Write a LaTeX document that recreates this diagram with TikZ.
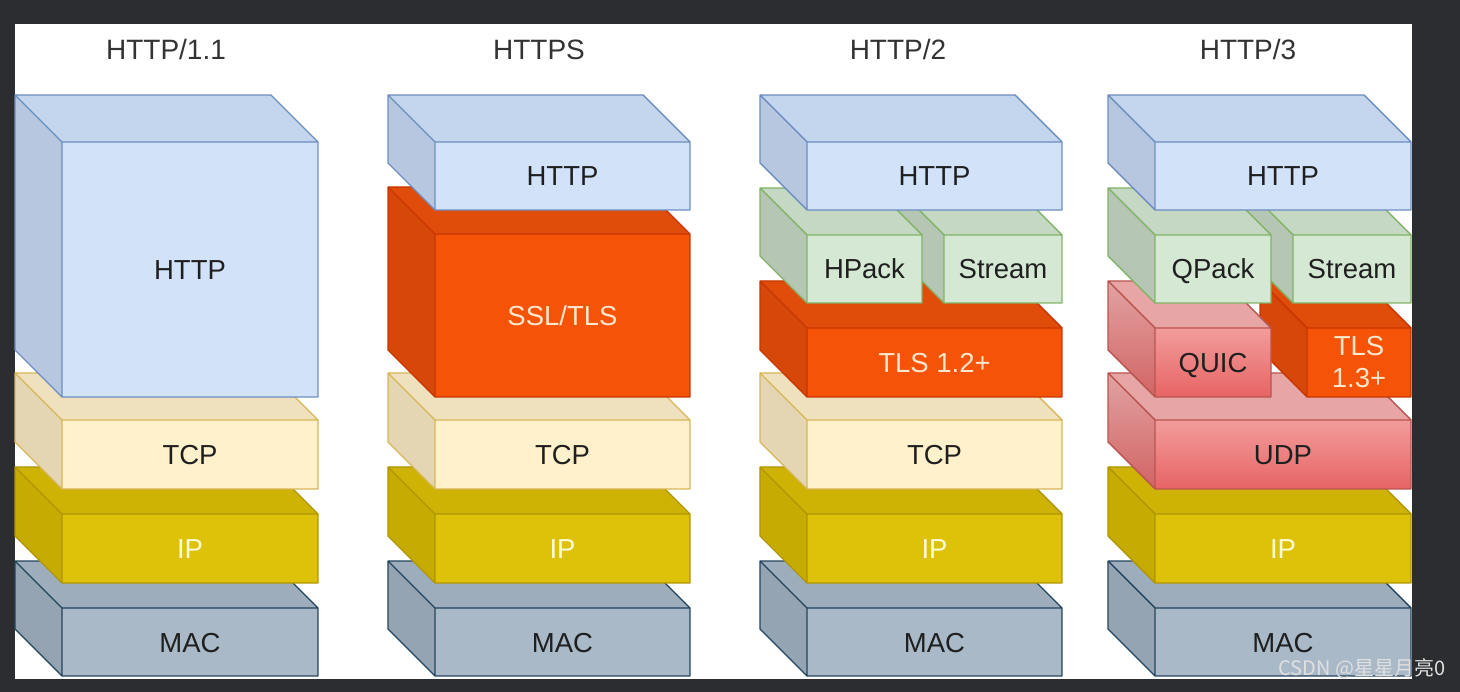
\documentclass[tikz,border=0pt]{standalone}
\usepackage{fontspec}
\setmainfont{Liberation Sans}
\newfontfamily\cjkfont{Noto Sans CJK SC}
\usepackage{tikz}
\usetikzlibrary{positioning}

\definecolor{bg}{HTML}{2B2D31}
\definecolor{titlegrey}{HTML}{333333}
\definecolor{blueF}{HTML}{D2E3F9}  \definecolor{blueT}{HTML}{C4D5EE}
\definecolor{blueL}{HTML}{B7C7E0}  \definecolor{blueD}{HTML}{6C8EBF}
\definecolor{blueX}{HTML}{1F1F1F}
\definecolor{orangeF}{HTML}{F55308} \definecolor{orangeT}{HTML}{E04D0A}
\definecolor{orangeL}{HTML}{D5480A} \definecolor{orangeD}{HTML}{C73500}
\definecolor{orangeX}{HTML}{FFE6CC}
\definecolor{creamF}{HTML}{FFF1CC} \definecolor{creamT}{HTML}{EFE1BD}
\definecolor{creamL}{HTML}{E4D6B3} \definecolor{creamD}{HTML}{D6B656}
\definecolor{creamX}{HTML}{1F1F1F}
\definecolor{yellowF}{HTML}{DEC20A} \definecolor{yellowT}{HTML}{CEB304}
\definecolor{yellowL}{HTML}{C6AB02} \definecolor{yellowD}{HTML}{B09500}
\definecolor{yellowX}{HTML}{FFFBD6}
\definecolor{slateF}{HTML}{A9B9C8} \definecolor{slateT}{HTML}{9DADBC}
\definecolor{slateL}{HTML}{95A4B2} \definecolor{slateD}{HTML}{23445D}
\definecolor{slateX}{HTML}{1F1F1F}
\definecolor{greenF}{HTML}{D5E8D4} \definecolor{greenT}{HTML}{C4D8C3}
\definecolor{greenL}{HTML}{B5C7B4} \definecolor{greenD}{HTML}{82B366}
\definecolor{greenX}{HTML}{1F1F1F}
\definecolor{redF}{HTML}{ED8080}   \definecolor{redT}{HTML}{E8A5A5}
\definecolor{redL}{HTML}{D88080}   \definecolor{redD}{HTML}{B85450}
\definecolor{redX}{HTML}{1F1F1F}
\definecolor{redA}{HTML}{F29C9C}   \definecolor{redB}{HTML}{E86464}
\definecolor{redC}{HTML}{E2A2A2}   \definecolor{redE}{HTML}{D26464}

% one layer block: [node opts] name, colour family, x0, y0, x1, y1, label
\newcommand{\layer}[8][]{%
  \path[fill=#3T] (#4,#5) -- (#6-47,#5) -- (#6,#5+47) -- (#4+47,#5+47) -- cycle;
  \path[fill=#3L, #3 lgrad/.try] (#4,#5) -- (#4+47,#5+47) -- (#4+47,#7) -- (#4,#7-47) -- cycle;
  \path[fill=#3F, #3 grad/.try] (#4+47,#5+47) rectangle (#6,#7);
  \draw[edge, draw=#3D] (#4,#5) -- (#6-47,#5) -- (#6,#5+47) -- (#6,#7) -- (#4+47,#7)
     -- (#4,#7-47) -- cycle (#4,#5) -- (#4+47,#5+47) -- (#6,#5+47)
     (#4+47,#5+47) -- (#4+47,#7);
  \node[lbl, text=#3X, #1] (#2) at ({(#4+47+#6)/2},{(#5+47+#7)/2}) {#8};
}

\begin{document}
\begin{tikzpicture}[x=1pt, y=-1pt,
    edge/.style={line width=1.4pt, line join=round},
    lbl/.style={font=\fontsize{27.5}{32}\selectfont, inner sep=0pt,
      text height=20pt, text depth=0pt, align=center},
    ttl/.style={font=\fontsize{28}{32}\selectfont, text=titlegrey,
      anchor=base, inner sep=0pt},
    wm/.style={font=\cjkfont\fontsize{20}{22}\selectfont, text=white!88!black,
      inner sep=0pt},
    red grad/.style={top color=redA, bottom color=redB},
    red lgrad/.style={top color=redC, bottom color=redE}
    ]
  \useasboundingbox (0,0) rectangle (1460,692);
  \fill[bg] (0,0) rectangle (1460,692);
  \fill[white] (15,24) rectangle (1412,679);

  % titles
  \node[ttl] (t1) at (166,60) {HTTP/1.1};
  \node[ttl] (t2) at (539,60) {HTTPS};
  \node[ttl] (t3) at (898,60) {HTTP/2};
  \node[ttl] (t4) at (1248,60) {HTTP/3};

  % HTTP/1.1
  \layer{mac1}{slate}{15}{561}{318}{676}{MAC}
  \layer{ip1}{yellow}{15}{467}{318}{583}{IP}
  \layer{tcp1}{cream}{15}{373}{318}{489}{TCP}
  \layer{http1}{blue}{15}{95}{318}{397}{HTTP}

  % HTTPS
  \layer{mac2}{slate}{388}{561}{690}{676}{MAC}
  \layer{ip2}{yellow}{388}{467}{690}{583}{IP}
  \layer{tcp2}{cream}{388}{373}{690}{489}{TCP}
  \layer{ssl2}{orange}{388}{187}{690}{397}{SSL/TLS}
  \layer{http2}{blue}{388}{95}{690}{210}{HTTP}

  % HTTP/2
  \layer{mac3}{slate}{760}{561}{1062}{676}{MAC}
  \layer{ip3}{yellow}{760}{467}{1062}{583}{IP}
  \layer{tcp3}{cream}{760}{373}{1062}{489}{TCP}
  \layer{tls3}{orange}{760}{281}{1062}{397}{TLS 1.2+}
  \layer{stream3}{green}{897}{188}{1062}{303}{Stream}
  \layer{hpack3}{green}{760}{188}{922}{303}{HPack}
  \layer{http3}{blue}{760}{95}{1062}{210}{HTTP}

  % HTTP/3
  \layer{mac4}{slate}{1108}{561}{1411}{676}{MAC}
  \layer{ip4}{yellow}{1108}{467}{1411}{583}{IP}
  \layer{udp4}{red}{1108}{373}{1411}{489}{UDP}
  \layer[text height=, text depth=, font=\fontsize{27.5}{32}\selectfont]{tls4}{orange}{1260}{281}{1411}{397}{TLS\\1.3+}
  \layer{quic4}{red}{1108}{281}{1271}{397}{QUIC}
  \layer{stream4}{green}{1246}{188}{1411}{303}{Stream}
  \layer{qpack4}{green}{1108}{188}{1271}{303}{QPack}
  \layer{http4}{blue}{1108}{95}{1411}{210}{HTTP}

  \node[wm] (wm) at (1362,669) {CSDN @星星月亮0};
\end{tikzpicture}
\end{document}
